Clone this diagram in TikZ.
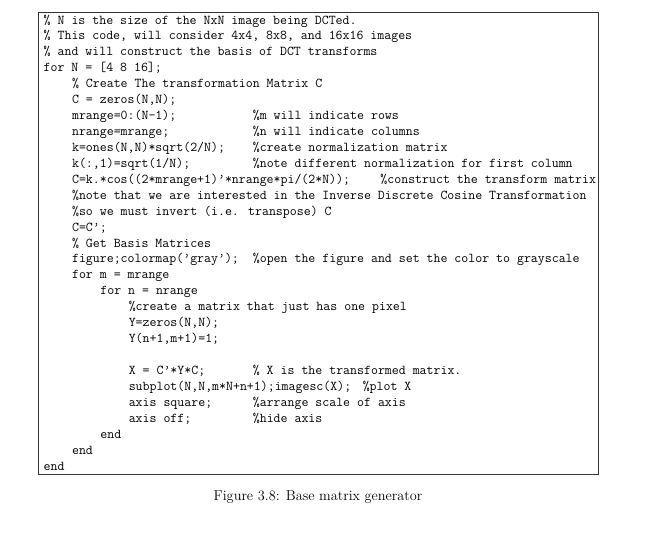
\documentclass[tikz,border=0pt]{standalone}
\usepackage{fontspec}
\begin{document}
\begin{tikzpicture}[x=1pt,y=-1pt,
  code/.style={anchor=base west,inner sep=0pt,font=\fontsize{13.5}{16}\selectfont\ttfamily},
  captext/.style={anchor=base,inner sep=0pt,font=\fontsize{14.3}{16}\selectfont}]
\useasboundingbox (0,0) rectangle (650,550);
\newcommand\cl[4]{\node[code] (#1) at ({43.5+#3*7.09},{24+(#2-1)*15.93}) {#4};}
\draw[line width=0.8pt,black!80] (38,12) rectangle (598,474);
\cl{l1}{1}{0}{\% N is the size of the NxN image being DCTed.}
\cl{l2}{2}{0}{\% This code, will consider 4x4, 8x8, and 16x16 images}
\cl{l3}{3}{0}{\% and will construct the basis of DCT transforms}
\cl{l4}{4}{0}{for N = [4 8 16];}
\cl{l5}{5}{4}{\% Create The transformation Matrix C}
\cl{l6}{6}{4}{C = zeros(N,N);}
\cl{l7}{7}{4}{mrange=0:(N-1);}
\cl{c7}{7}{29.5}{\%m will indicate rows}
\cl{l8}{8}{4}{nrange=mrange;}
\cl{c8}{8}{29.5}{\%n will indicate columns}
\cl{l9}{9}{4}{k=ones(N,N)*sqrt(2/N);}
\cl{c9}{9}{29.5}{\%create normalization matrix}
\cl{l10}{10}{4}{k(:,1)=sqrt(1/N);}
\cl{c10}{10}{29.5}{\%note different normalization for first column}
\cl{l11}{11}{4}{C=k.*cos((2*mrange+1)’*nrange*pi/(2*N));}
\cl{c11}{11}{47.5}{\%construct the transform matrix}
\cl{l12}{12}{4}{\%note that we are interested in the Inverse Discrete Cosine Transformation}
\cl{l13}{13}{4}{\%so we must invert (i.e. transpose) C}
\cl{l14}{14}{4}{C=C’;}
\cl{l15}{15}{4}{\% Get Basis Matrices}
\cl{l16}{16}{4}{figure;colormap(’gray’);}
\cl{c16}{16}{29.5}{\%open the figure and set the color to grayscale}
\cl{l17}{17}{4}{for m = mrange}
\cl{l18}{18}{8}{for n = nrange}
\cl{l19}{19}{12}{\%create a matrix that just has one pixel}
\cl{l20}{20}{12}{Y=zeros(N,N);}
\cl{l21}{21}{12}{Y(n+1,m+1)=1;}
\cl{l23}{23}{12}{X = C’*Y*C;}
\cl{c23}{23}{29.5}{\% X is the transformed matrix.}
\cl{l24}{24}{12}{subplot(N,N,m*N+n+1);imagesc(X);}
\cl{c24}{24}{45}{\%plot X}
\cl{l25}{25}{12}{axis square;}
\cl{c25}{25}{29.5}{\%arrange scale of axis}
\cl{l26}{26}{12}{axis off;}
\cl{c26}{26}{29.5}{\%hide axis}
\cl{l27}{27}{8}{end}
\cl{l28}{28}{4}{end}
\cl{l29}{29}{0}{end}
\node[captext] (caption) at (318,500) {Figure 3.8: Base matrix generator};
\end{tikzpicture}
\end{document}
